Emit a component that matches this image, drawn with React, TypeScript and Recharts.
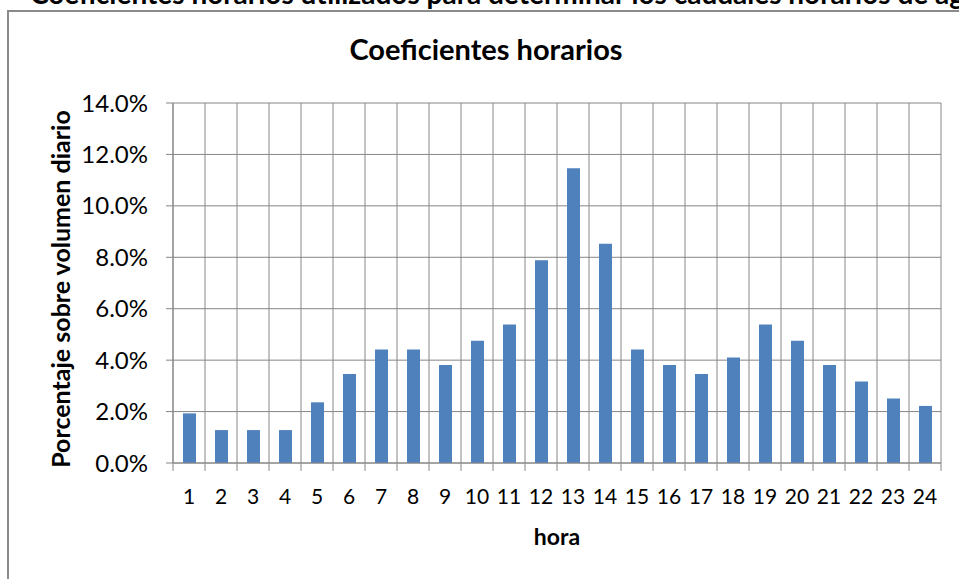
import React from "react";
import { BarChart, Bar, XAxis, YAxis, CartesianGrid } from "recharts";

// horas del día y coeficiente horario (% del volumen diario)
const horas = [
  "1", "2", "3", "4", "5", "6", "7", "8", "9", "10", "11", "12",
  "13", "14", "15", "16", "17", "18", "19", "20", "21", "22", "23", "24",
];
const coeficientes = [
  1.93, 1.28, 1.28, 1.28, 2.36, 3.46, 4.41, 4.41, 3.81, 4.75, 5.39, 7.88,
  11.46, 8.53, 4.41, 3.81, 3.46, 4.1, 5.39, 4.75, 3.81, 3.17, 2.51, 2.22,
];
const yTicks = [0, 2, 4, 6, 8, 10, 12, 14];

const captionText =
  "Coeficientes horarios utilizados para determinar los caudales horarios de agua potable";
const titleText = "Coeficientes horarios";

const FONT = "Lato, 'Open Sans', sans-serif";
const GRID = "#868686";

const data = horas.map((h, i) => ({ hora: h, pct: coeficientes[i] }));

// etiqueta de hora + marca en el límite izquierdo de cada categoría
function HoraTick(props: any) {
  const { x, y, payload, index } = props;
  const half = payload?.offset ?? 0;
  const last = index === horas.length - 1;
  return (
    <g>
      <line x1={x - half} x2={x - half} y1={y} y2={y + 8} stroke={GRID} />
      {last && (
        <line x1={x + half} x2={x + half} y1={y} y2={y + 8} stroke={GRID} />
      )}
      <text
        x={x}
        y={y + 26}
        dy="0.71em"
        textAnchor="middle"
        fontSize={21}
        fill="#000"
        fontFamily={FONT}
      >
        {payload.value}
      </text>
    </g>
  );
}

export default function App() {
  return (
    <div
      style={{
        position: "absolute",
        left: 0,
        top: 0,
        width: 959,
        height: 579,
        overflow: "hidden",
        background: "#fff",
        fontFamily: FONT,
      }}
    >
      {/* marco del gráfico */}
      <div
        style={{
          position: "absolute",
          left: 7,
          top: 10,
          width: 1000,
          height: 700,
          border: "2px solid #8a8a8a",
        }}
      />
      <svg
        width={959}
        height={80}
        style={{ position: "absolute", left: 0, top: 0 }}
      >
        <text x={30} y={4} fontSize={28} fontWeight={700} fill="#000">
          {captionText}
        </text>
        <text
          x={486}
          y={60}
          fontSize={29}
          fontWeight={700}
          fill="#000"
          textAnchor="middle"
        >
          {titleText}
        </text>
      </svg>
      <div style={{ position: "absolute", left: 0, top: 0 }}>
        <BarChart
          width={959}
          height={579}
          data={data}
          margin={{ top: 103, right: 18, bottom: 30, left: 0 }}
        >
          <CartesianGrid
            stroke={GRID}
            strokeWidth={1}
            verticalCoordinatesGenerator={({ offset }: any) =>
              [...horas.map((_, i) => i), horas.length].map(
                (k) => offset.left + (offset.width * k) / horas.length
              )
            }
          />
          <XAxis
            dataKey="hora"
            interval={0}
            height={86}
            tickLine={false}
            axisLine={{ stroke: GRID }}
            tickSize={0}
            tickMargin={0}
            tick={<HoraTick />}
            label={{
              value: "hora",
              position: "insideBottom",
              offset: 4,
              fontSize: 23,
              fontWeight: 700,
              fill: "#000",
              fontFamily: FONT,
            }}
          />
          <YAxis
            domain={[0, 14]}
            ticks={yTicks}
            width={173}
            tickSize={7}
            tickMargin={18}
            tickLine={{ stroke: GRID }}
            axisLine={{ stroke: GRID }}
            tickFormatter={(v: number) => `${v.toFixed(1)}%`}
            tick={{ fontSize: 24, fill: "#000", fontFamily: FONT }}
            label={{
              value: "Porcentaje sobre volumen diario",
              angle: -90,
              position: "center",
              dx: -25,
              dy: 6,
              fontSize: 25,
              fontWeight: 700,
              fill: "#000",
              fontFamily: FONT,
            }}
          />
          <Bar
            dataKey="pct"
            fill="#4F81BD"
            barSize={13}
            isAnimationActive={false}
          />
        </BarChart>
      </div>
    </div>
  );
}
